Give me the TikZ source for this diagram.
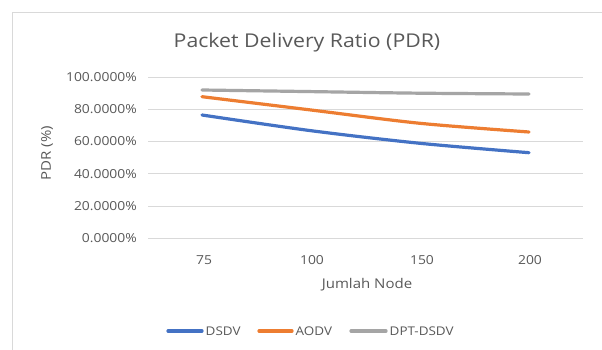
\documentclass[tikz,border=0pt]{standalone}
\usepackage{fontspec}
\setmainfont{Open Sans}[FakeStretch=1.12]
\definecolor{gridc}{HTML}{D9D9D9}
\definecolor{txtc}{HTML}{595959}
\definecolor{dsdvc}{HTML}{4472C4}
\definecolor{aodvc}{HTML}{ED7D31}
\definecolor{dptc}{HTML}{A5A5A5}
\begin{document}
\begin{tikzpicture}[x=1pt,y=-1pt,
  ticklab/.style={text=txtc,font=\fontsize{12.4}{14}\selectfont,inner sep=0pt},
  axlab/.style={text=txtc,font=\fontsize{13.4}{15}\selectfont,inner sep=0pt},
  leglab/.style={text=txtc,font=\fontsize{12}{14}\selectfont,inner sep=0pt},
  serie/.style={line width=3.2pt,line cap=round},
  grid line/.style={draw=gridc,line width=0.8pt}]
\useasboundingbox (0,0) rectangle (602,350);
\fill[white] (0,0) rectangle (602,350);
\draw[gridc,line width=0.8pt] (12.5,352) -- (12.5,12.5) -- (604,12.5);
% title
\node[text=txtc,font=\fontsize{19}{21}\selectfont,inner sep=0pt] (title) at (307,43) {Packet Delivery Ratio (PDR)};
% grid and y labels
\foreach \v/\lab [count=\i] in {0/0.0000\%,20/20.0000\%,40/40.0000\%,60/60.0000\%,80/80.0000\%,100/100.0000\%}{
  \coordinate (g\i) at (148,{238.3-\v*1.613});
  \coordinate (h\i) at (583,{238.3-\v*1.613});
  \draw[grid line] (g\i) -- (h\i);
  \node[ticklab,anchor=east] (yl\i) at ([xshift=-11pt]g\i) {\lab};
}
% x labels
\foreach \x/\lab in {204/75,312/100,422/150,530/200}{
  \node[ticklab] (xl\lab) at (\x,260) {\lab};
}
\node[axlab] (xtitle) at (367,285) {Jumlah Node};
\node[axlab,rotate=90] (ytitle) at (47,153) {PDR (\%)};
% series
\draw[serie,dptc] plot[smooth,tension=0.5] coordinates {(202,90) (311,91.6) (420,93.2) (529,94)};
\draw[serie,aodvc] plot[smooth,tension=0.5] coordinates {(202,96.7) (311,110) (420,123.3) (529,132)};
\draw[serie,dsdvc] plot[smooth,tension=0.5] coordinates {(202,115) (311,130.7) (420,143.3) (529,152.7)};
% legend
\coordinate (l1a) at (168,331); \coordinate (l1b) at (202,331);
\coordinate (l2a) at (259,331); \coordinate (l2b) at (292,331);
\coordinate (l3a) at (351,331); \coordinate (l3b) at (386,331);
\draw[serie,dsdvc] (l1a) -- (l1b);
\draw[serie,aodvc] (l2a) -- (l2b);
\draw[serie,dptc] (l3a) -- (l3b);
\node[leglab,anchor=west] (leg1) at ([xshift=3.5pt]l1b) {DSDV};
\node[leglab,anchor=west] (leg2) at ([xshift=3.5pt]l2b) {AODV};
\node[leglab,anchor=west] (leg3) at ([xshift=3.5pt]l3b) {DPT-DSDV};
\end{tikzpicture}
\end{document}
